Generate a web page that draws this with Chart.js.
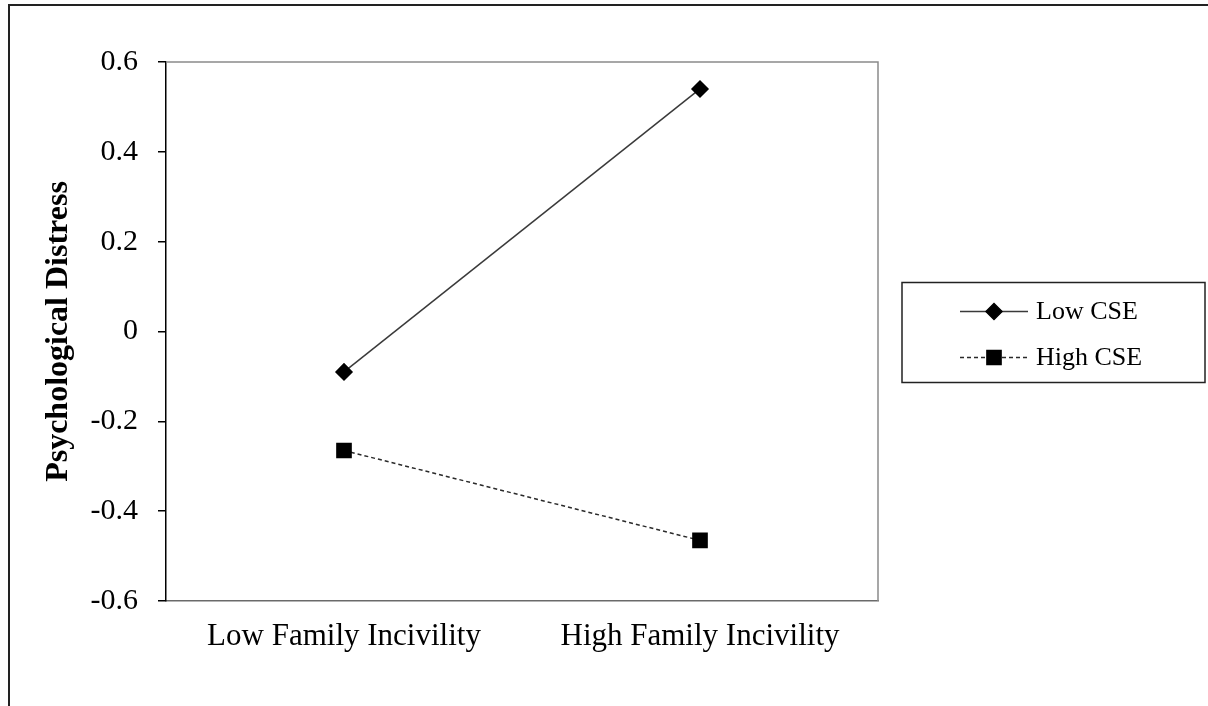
<!DOCTYPE html>
<html>
<head>
<meta charset="utf-8">
<script src="https://cdn.jsdelivr.net/npm/chart.js@4.4.0/dist/chart.umd.min.js"></script>
<style>
  html, body { margin: 0; padding: 0; background: #fff; }
  #wrap { width: 1208px; height: 706px; }
</style>
</head>
<body>
<div id="wrap"><canvas id="chart" width="1208" height="706"></canvas></div>
<script>
const serif = '"Liberation Serif", "Times New Roman", serif';

// Values
const categories = ['Low Family Incivility', 'High Family Incivility'];
const lowCSE = [-0.09, 0.54];
const highCSE = [-0.265, -0.465];
const seriesNames = ['Low CSE', 'High CSE'];

// Y axis range
const yMin = -0.6;
const yMax = 0.6;
const yStep = 0.2;

// Frame around the plot area (gray top / right) and the outer picture frame
const frame = {
  id: 'frame',
  beforeDatasetsDraw(chart) {
    const { ctx, chartArea: a } = chart;
    ctx.save();
    ctx.strokeStyle = '#8a8a8a';
    ctx.lineWidth = 1.5;
    ctx.beginPath();
    ctx.moveTo(a.left, a.top);
    ctx.lineTo(a.right, a.top);
    ctx.lineTo(a.right, a.bottom);
    ctx.stroke();
    ctx.restore();
  },
  afterDraw(chart) {
    const { ctx, width, height } = chart;
    ctx.save();
    ctx.strokeStyle = '#222';
    ctx.lineWidth = 2;
    ctx.beginPath();
    ctx.moveTo(9, height);
    ctx.lineTo(9, 5);
    ctx.lineTo(width, 5);
    ctx.stroke();
    ctx.restore();
  }
};

// Boxed legend with line + marker samples, like the original spreadsheet chart
const boxLegend = {
  id: 'boxLegend',
  afterDraw(chart) {
    const { ctx, chartArea: a } = chart;
    const boxX = a.right + 24;
    const boxY = (a.top + a.bottom) / 2 - 49;
    const boxW = 303;
    const boxH = 100;
    ctx.save();
    ctx.strokeStyle = '#222';
    ctx.lineWidth = 1.5;
    ctx.strokeRect(boxX, boxY, boxW, boxH);

    chart.data.datasets.forEach((ds, i) => {
      const y = boxY + 29 + i * 46;
      const x0 = boxX + 58;
      const x1 = boxX + 126;
      ctx.strokeStyle = ds.borderColor;
      ctx.lineWidth = ds.borderWidth;
      ctx.setLineDash(ds.borderDash || []);
      ctx.beginPath();
      ctx.moveTo(x0, y);
      ctx.lineTo(x1, y);
      ctx.stroke();
      ctx.setLineDash([]);
      ctx.fillStyle = '#000';
      ctx.strokeStyle = '#000';
      Chart.helpers.drawPoint(ctx, {
        pointStyle: ds.pointStyle,
        radius: ds.pointRadius,
        rotation: 0,
        borderWidth: 1
      }, (x0 + x1) / 2, y);
      ctx.fillStyle = '#000';
      ctx.font = '26px ' + serif;
      ctx.textBaseline = 'middle';
      ctx.textAlign = 'left';
      ctx.fillText(ds.label, x1 + 8, y + 1);
    });
    ctx.restore();
  }
};

const ctx = document.getElementById('chart');

new Chart(ctx, {
  type: 'line',
  data: {
    labels: categories,
    datasets: [
      {
        label: seriesNames[0],
        data: lowCSE,
        borderColor: '#3a3a3a',
        backgroundColor: '#000',
        pointBackgroundColor: '#000',
        pointBorderColor: '#000',
        borderWidth: 1.5,
        pointStyle: 'rectRot',
        pointRadius: 8,
        pointHoverRadius: 8,
        fill: false
      },
      {
        label: seriesNames[1],
        data: highCSE,
        borderColor: '#2a2a2a',
        backgroundColor: '#000',
        pointBackgroundColor: '#000',
        pointBorderColor: '#000',
        borderWidth: 1.5,
        borderDash: [4, 3],
        pointStyle: 'rect',
        pointRadius: 10,
        pointHoverRadius: 10,
        fill: false
      }
    ]
  },
  options: {
    responsive: false,
    animation: false,
    events: [],
    layout: {
      padding: { top: 62, right: 330, bottom: 0, left: 0 }
    },
    scales: {
      x: {
        offset: true,
        grid: { display: false, drawTicks: false },
        border: { display: true, color: '#6a6a6a', width: 1.5 },
        ticks: {
          color: '#000',
          font: { family: serif, size: 31 },
          padding: 17,
          maxRotation: 0
        },
        afterFit(scale) { scale.height = 105; }
      },
      y: {
        min: yMin,
        max: yMax,
        grid: {
          drawOnChartArea: false,
          drawTicks: true,
          tickLength: 8,
          color: '#000',
          lineWidth: 1.5
        },
        border: { display: true, color: '#000', width: 1.5 },
        ticks: {
          stepSize: yStep,
          color: '#000',
          font: { family: serif, size: 30 },
          padding: 20,
          callback: v => Math.abs(v) < 1e-9 ? '0' : v.toFixed(1)
        },
        title: {
          display: true,
          text: 'Psychological Distress',
          color: '#000',
          font: { family: serif, size: 32, weight: 'bold' },
          padding: { top: 40, bottom: 0 }
        },
        afterFit(scale) { scale.width = 166; }
      }
    },
    plugins: {
      legend: { display: false },
      tooltip: { enabled: false }
    }
  },
  plugins: [frame, boxLegend]
});
</script>
</body>
</html>
